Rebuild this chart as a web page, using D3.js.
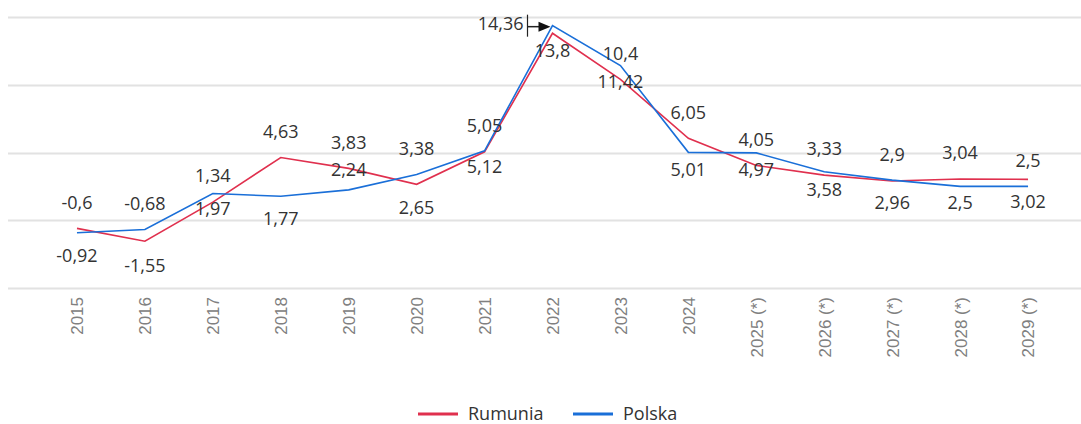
<!DOCTYPE html>
<html>
<head>
<meta charset="utf-8">
<script src="https://cdn.jsdelivr.net/npm/d3@7"></script>
<style>
  body { margin: 0; background: #fff; }
  svg { display: block; font-family: "Open Sans", sans-serif; }
</style>
</head>
<body>
<svg></svg>
<script>
// Data
const years = ["2015", "2016", "2017", "2018", "2019", "2020", "2021", "2022", "2023", "2024",
  "2025 (*)", "2026 (*)", "2027 (*)", "2028 (*)", "2029 (*)"];
const rumunia = [-0.6, -1.55, 1.34, 4.63, 3.83, 2.65, 5.05, 13.8, 10.4, 6.05, 4.05, 3.33, 2.9, 3.04, 3.02];
const polska = [-0.92, -0.68, 1.97, 1.77, 2.24, 3.38, 5.12, 14.36, 11.42, 5.01, 4.97, 3.58, 2.96, 2.5, 2.5];
const gridTicks = [-5, 0, 5, 10, 15];

// which series gets its label above the point (the other one goes below)
const labelAbove = ["R", "P", "R", "R", "R", "P", "R", "P", "R", "R", "R", "R", "R", "R", "P"];
// vertical nudge of the lower label (pixels below its point)
const belowNudge = [23, 24, 15, 22, -20, 23, 16, 17, 16, 17, 17, 18, 23, 16, 22];

const width = 1081, height = 424;
const colors = { R: "#e0304e", P: "#1a6fd8" };

const svg = d3.select("svg")
  .attr("width", width)
  .attr("height", height);

// Scales
const x = d3.scalePoint()
  .domain(years)
  .range([43, 1062])
  .padding(0.5);

const y = d3.scaleLinear()
  .domain([-5, 15])
  .range([288, 17]);

// Gridlines
svg.append("g")
  .selectAll("line")
  .data(gridTicks)
  .join("line")
    .attr("x1", 8)
    .attr("x2", width)
    .attr("y1", d => Math.round(y(d)) + 0.5)
    .attr("y2", d => Math.round(y(d)) + 0.5)
    .attr("stroke", "#e2e2e2")
    .attr("stroke-width", 2);

// X axis, rotated labels
const xAxis = svg.append("g")
  .attr("transform", "translate(0,297)")
  .call(d3.axisBottom(x).tickSize(0).tickPadding(0));
xAxis.attr("font-family", null).attr("font-size", null);
xAxis.select(".domain").remove();
xAxis.selectAll("text")
  .attr("transform", "rotate(-90)")
  .attr("x", 0)
  .attr("y", 0)
  .attr("dy", "0.35em")
  .attr("text-anchor", "end")
  .attr("fill", "#808080")
  .style("font-family", "'Liberation Sans', Arial, sans-serif")
  .style("font-size", "17px");

// Lines
const line = d3.line()
  .x((d, i) => x(years[i]))
  .y(d => y(d));

const series = [
  { key: "R", name: "Rumunia", values: rumunia },
  { key: "P", name: "Polska", values: polska }
];

svg.selectAll(".line")
  .data(series)
  .join("path")
    .attr("class", "line")
    .attr("fill", "none")
    .attr("stroke", d => colors[d.key])
    .attr("stroke-width", 1.6)
    .attr("d", d => line(d.values));

// Data labels
const labels = [];
years.forEach((yr, i) => {
  series.forEach(s => {
    const above = labelAbove[i] === s.key;
    labels.push({ yr: yr, i: i, v: s.values[i], above: above, key: s.key });
  });
});

const fmt = v => String(v).replace(".", ",");

svg.append("g")
  .selectAll("text")
  .data(labels.filter(d => !(d.above && d.yr === "2022")))
  .join("text")
    .attr("x", d => x(d.yr))
    .attr("y", d => y(d.v) + (d.above ? -26 : belowNudge[d.i]))
    .attr("dy", "0.35em")
    .attr("text-anchor", "middle")
    .attr("fill", "#333")
    .style("font-size", "18px")
    .text(d => fmt(d.v));

// 2022 peak label sits to the left, with the cursor arrow
const peak = labels.find(d => d.above && d.yr === "2022");
const px = x(peak.yr), py = y(peak.v);
svg.append("text")
  .attr("x", px - 29)
  .attr("y", py - 2)
  .attr("dy", "0.35em")
  .attr("text-anchor", "end")
  .attr("fill", "#333")
  .style("font-size", "18px")
  .text(fmt(peak.v));
svg.append("line")
  .attr("x1", px - 25).attr("x2", px - 25)
  .attr("y1", py - 11).attr("y2", py + 11)
  .attr("stroke", "#222").attr("stroke-width", 1.2);
svg.append("line")
  .attr("x1", px - 25).attr("x2", px - 12)
  .attr("y1", py + 1).attr("y2", py + 1)
  .attr("stroke", "#222").attr("stroke-width", 1.5);
svg.append("path")
  .attr("d", `M${px - 14},${py - 4}L${px - 2},${py + 1}L${px - 14},${py + 6}Z`)
  .attr("fill", "#111");

// Legend
const legend = svg.append("g").attr("transform", "translate(0,414)");
const legendX = [418, 573];
series.forEach((s, i) => {
  legend.append("line")
    .attr("x1", legendX[i]).attr("x2", legendX[i] + 40)
    .attr("y1", 0).attr("y2", 0)
    .attr("stroke", colors[s.key])
    .attr("stroke-width", 3);
  legend.append("text")
    .attr("x", legendX[i] + 50)
    .attr("y", 0)
    .attr("dy", "0.35em")
    .attr("fill", "#333")
    .style("font-size", "18px")
    .text(s.name);
});
</script>
</body>
</html>
